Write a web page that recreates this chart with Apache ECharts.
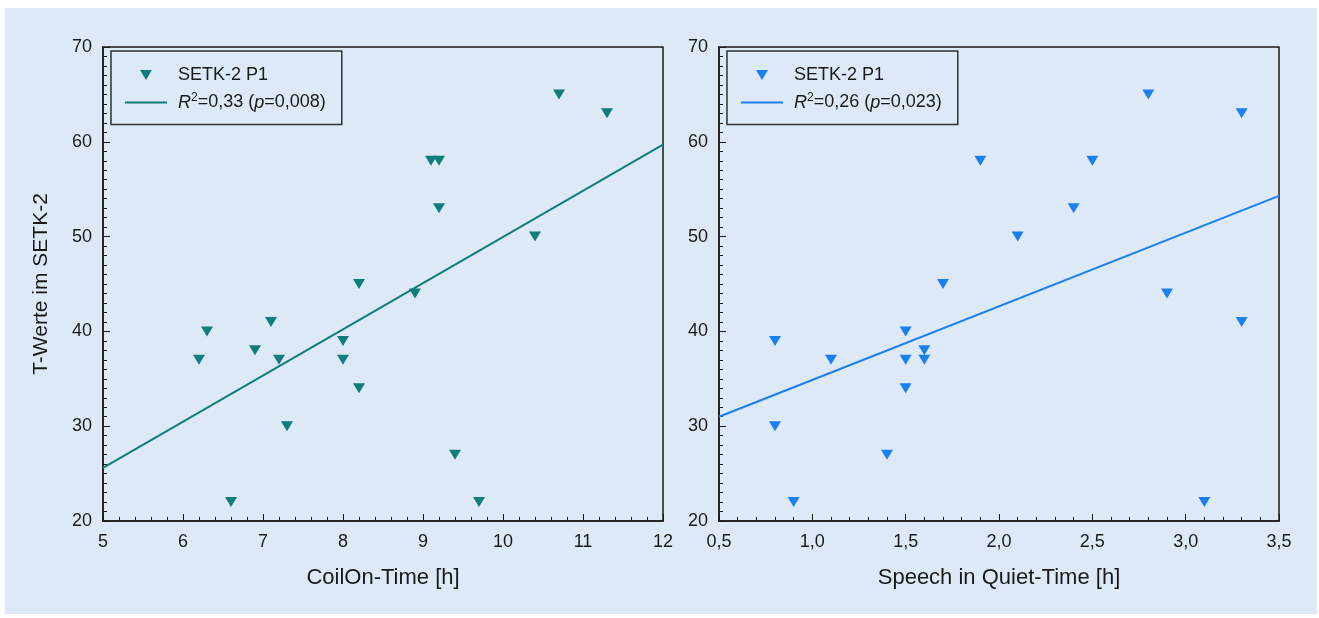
<!DOCTYPE html>
<html>
<head>
<meta charset="utf-8">
<script src="https://cdn.jsdelivr.net/npm/echarts@6/dist/echarts.min.js"></script>
<style>
html,body{margin:0;padding:0;background:#ffffff;}
#chart{width:1319px;height:618px;}
</style>
</head>
<body>
<div id="chart"></div>
<script>
// ---- Data ----
const coilOnX = [10.7, 11.3, 9.1, 9.2, 9.2, 10.4, 8.2, 8.9, 7.1, 6.3, 8.0, 6.9, 6.2, 7.2, 8.0, 8.2, 7.3, 9.4, 6.6, 9.7];
const coilOnY = [65, 63, 58, 58, 53, 50, 45, 44, 41, 40, 39, 38, 37, 37, 37, 34, 30, 27, 22, 22];
const coilFitX = [5, 12];
const coilFitY = [25.6, 59.7];

const speechX = [2.8, 3.3, 1.9, 2.5, 2.4, 2.1, 1.7, 2.9, 3.3, 1.5, 0.8, 1.6, 1.1, 1.5, 1.6, 1.5, 0.8, 1.4, 0.9, 3.1];
const speechY = [65, 63, 58, 58, 53, 50, 45, 44, 41, 40, 39, 38, 37, 37, 37, 34, 30, 27, 22, 22];
const speechFitX = [0.5, 3.5];
const speechFitY = [31.0, 54.3];

const seriesLabel = 'SETK-2 P1';
const fitLabelLeft = '{i|R}{sup|2}=0,33 ({i|p}=0,008)';
const fitLabelRight = '{i|R}{sup|2}=0,26 ({i|p}=0,023)';
const yAxisTitle = 'T-Werte im SETK-2';
const xTitleLeft = 'CoilOn-Time [h]';
const xTitleRight = 'Speech in Quiet-Time [h]';

const tealColor = '#0f7d7b';
const blueColor = '#1a7ff0';

const zip = (xs, ys) => xs.map((x, i) => [x, ys[i]]);
const commaFmt = v => v.toFixed(1).replace('.', ',');

const font = 'Liberation Sans, Arial, sans-serif';
const textColor = '#1a1a1a';
const triPath = 'path://M0,0L12,0L6,10Z';
const linePath = 'path://M0,0L42,0L42,2L0,2Z';

const labelNames = {
  a1: seriesLabel, a2: fitLabelLeft,
  b1: seriesLabel, b2: fitLabelRight
};

const richText = {
  i: {fontStyle: 'italic', fontSize: 18, fontFamily: font, color: textColor},
  sup: {fontSize: 12, fontFamily: font, color: textColor, padding: [0, 0, 9, 0]}
};

function makeLegend(left, names) {
  return {
    left: left, top: 51,
    orient: 'vertical',
    padding: [14, 16, 12, 14],
    itemWidth: 42, itemHeight: 10,
    itemGap: 7,
    borderColor: '#333333', borderWidth: 1.5,
    borderRadius: 0,
    selectedMode: false,
    data: names.map((n, k) => ({name: n, icon: k === 0 ? triPath : linePath})),
    formatter: n => labelNames[n],
    textStyle: {fontSize: 18, fontFamily: font, color: textColor, lineHeight: 20,
      padding: [0, 0, 0, 6], rich: richText}
  };
}

function xAxisCfg(idx, min, max, interval, name, fmt) {
  return {
    type: 'value', gridIndex: idx, min: min, max: max, interval: interval,
    name: name, nameLocation: 'middle', nameGap: 46,
    nameTextStyle: {fontSize: 22, fontFamily: font, color: textColor},
    axisLine: {show: true, lineStyle: {color: textColor, width: 1.5}},
    axisTick: {show: true, inside: true, length: 7, lineStyle: {color: textColor, width: 1}},
    minorTick: {show: true, splitNumber: 5, length: 4, lineStyle: {color: textColor, width: 1}},
    axisLabel: {fontSize: 18, fontFamily: font, color: textColor, margin: 12, formatter: fmt},
    splitLine: {show: false}
  };
}

function yAxisCfg(idx, name) {
  return {
    type: 'value', gridIndex: idx, min: 20, max: 70, interval: 10,
    name: name, nameLocation: 'middle', nameGap: 51,
    nameTextStyle: {fontSize: 21, fontFamily: font, color: textColor},
    axisLine: {show: true, lineStyle: {color: textColor, width: 1.5}},
    axisTick: {show: true, inside: true, length: 7, lineStyle: {color: textColor, width: 1}},
    minorTick: {show: true, splitNumber: 10, length: 4, lineStyle: {color: textColor, width: 1}},
    axisLabel: {fontSize: 18, fontFamily: font, color: textColor, margin: 11},
    splitLine: {show: false}
  };
}

const chart = echarts.init(document.getElementById('chart'), null, {renderer: 'canvas'});
chart.setOption({
  backgroundColor: '#ffffff',
  animation: false,
  graphic: [{
    type: 'rect', z: -100, silent: true,
    shape: {x: 5, y: 8, width: 1312, height: 606},
    style: {fill: '#dde9f6'}
  }],
  grid: [
    {left: 103, top: 47, width: 560, height: 474, show: true, borderColor: textColor, borderWidth: 1.5, backgroundColor: 'transparent'},
    {left: 719, top: 47, width: 560, height: 474, show: true, borderColor: textColor, borderWidth: 1.5, backgroundColor: 'transparent'}
  ],
  xAxis: [
    xAxisCfg(0, 5, 12, 1, xTitleLeft, v => String(v)),
    xAxisCfg(1, 0.5, 3.5, 0.5, xTitleRight, commaFmt)
  ],
  yAxis: [
    yAxisCfg(0, yAxisTitle),
    yAxisCfg(1, '')
  ],
  legend: [
    makeLegend(111, ['a1', 'a2']),
    makeLegend(727, ['b1', 'b2'])
  ],
  series: [
    {name: 'a1', type: 'scatter', xAxisIndex: 0, yAxisIndex: 0,
     symbol: triPath, symbolSize: [12, 10], itemStyle: {color: tealColor, opacity: 1},
     data: zip(coilOnX, coilOnY)},
    {name: 'a2', type: 'line', xAxisIndex: 0, yAxisIndex: 0,
     showSymbol: false, symbol: 'none', lineStyle: {color: tealColor, width: 2}, itemStyle: {color: tealColor},
     data: zip(coilFitX, coilFitY)},
    {name: 'b1', type: 'scatter', xAxisIndex: 1, yAxisIndex: 1,
     symbol: triPath, symbolSize: [12, 10], itemStyle: {color: blueColor, opacity: 1},
     data: zip(speechX, speechY)},
    {name: 'b2', type: 'line', xAxisIndex: 1, yAxisIndex: 1,
     showSymbol: false, symbol: 'none', lineStyle: {color: blueColor, width: 2}, itemStyle: {color: blueColor},
     data: zip(speechFitX, speechFitY)}
  ]
});
</script>
</body>
</html>
